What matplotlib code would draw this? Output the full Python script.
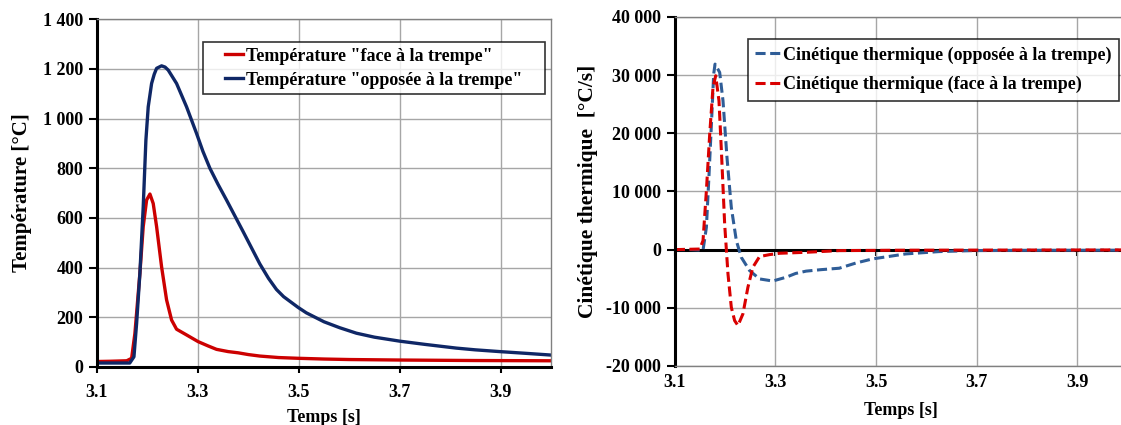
import matplotlib.pyplot as plt
from matplotlib.path import Path
from matplotlib.ticker import FuncFormatter

# température "face à la trempe" [°C]
t_face = [3.10, 3.126, 3.159, 3.1687, 3.1752, 3.1851, 3.1917, 3.1984, 3.205, 3.2115,
          3.2182, 3.2281, 3.238, 3.2479, 3.2578, 3.2776, 3.3006, 3.32, 3.337, 3.36,
          3.38, 3.40, 3.4228, 3.46, 3.4986, 3.55, 3.60, 3.70, 3.85, 4.00]
T_face = [22, 23, 25, 35, 135, 377, 565, 672, 696, 658,
          565, 403, 270, 189, 152, 129, 102, 85, 71, 62,
          57, 50, 44, 38, 35, 32, 30, 28, 26, 25]

# température "opposée à la trempe" [°C]
t_opp = [3.10, 3.165, 3.1733, 3.1786, 3.1851, 3.1917, 3.197, 3.2016, 3.2083, 3.2135,
         3.2182, 3.2281, 3.235, 3.2412, 3.2578, 3.2776, 3.2974, 3.31, 3.3238, 3.34,
         3.3568, 3.3897, 3.4228, 3.44, 3.4558, 3.47, 3.4986, 3.515, 3.55, 3.5812,
         3.6143, 3.65, 3.70, 3.75, 3.8123, 3.85, 3.898, 3.95, 4.00]
T_opp = [16, 16, 41, 176, 377, 645, 913, 1047, 1141, 1178,
         1202, 1212, 1207, 1195, 1141, 1047, 940, 868, 800, 735,
         672, 545, 415, 357, 312, 283, 240, 218, 182, 158,
         136, 120, 104, 91, 76, 69, 62, 55, 48]

# cinétique thermique "opposée à la trempe" [°C/s]
k_t_opp = [3.10, 3.13, 3.156, 3.1627, 3.168, 3.1727, 3.1772, 3.1799, 3.1891, 3.1957,
           3.2036, 3.2122, 3.2222, 3.232, 3.2485, 3.2683, 3.2947, 3.3211, 3.34, 3.3608,
           3.39, 3.4267, 3.46, 3.4927, 3.5588, 3.6248, 3.6907, 3.80, 4.00]
k_opp = [0, 0, -100, 3830, 13000, 21600, 30190, 31900, 30470, 25600,
         15860, 7270, 1550, -1320, -3600, -5040, -5400, -4750, -4100, -3700,
         -3450, -3200, -2300, -1600, -740, -340, -170, -120, -100]

# cinétique thermique "face à la trempe" [°C/s]
k_t_face = [3.10, 3.1495, 3.156, 3.1627, 3.1693, 3.1758, 3.1812, 3.1877, 3.1925, 3.199,
            3.2056, 3.2122, 3.2188, 3.2254, 3.2353, 3.2452, 3.255, 3.2683, 3.2881, 3.3079,
            3.3608, 3.4267, 3.55, 4.00]
k_face = [0, 100, 1550, 10140, 19880, 27900, 29900, 25600, 17000, 4400,
          -4180, -9910, -12200, -13060, -11050, -6480, -3040, -1200, -860, -630,
          -460, -170, -100, -50]

xticks = [3.1, 3.3, 3.5, 3.7, 3.9]

plt.rcParams['font.family'] = ['Liberation Serif', 'DejaVu Serif']
plt.rcParams['font.weight'] = 'bold'
plt.rcParams['axes.labelweight'] = 'bold'

sep = FuncFormatter(lambda v, p: f"{int(v):,}".replace(",", " "))


def wide_box(x0, y0, width, height, mutation_size, padx=17):
    x0 -= padx
    width += 2 * padx
    return Path([(x0, y0), (x0 + width, y0), (x0 + width, y0 + height),
                 (x0, y0 + height), (x0, y0)], closed=True)


fig = plt.figure(figsize=(11.21, 4.25), dpi=100)
ax1 = fig.add_axes([0.0865, 0.1365, 0.405, 0.8185])
ax2 = fig.add_axes([0.602, 0.139, 0.404, 0.821])

for ax in (ax1, ax2):
    ax.set_xlim(3.1, 4.0)
    ax.set_xticks(xticks)
    ax.grid(True, color='#a6a6a6', linewidth=1)
    ax.set_axisbelow(True)
    ax.spines['left'].set_linewidth(2.2)
    ax.spines['left'].set_color('black')
    for s in ('top', 'right'):
        ax.spines[s].set_color('#808080')
        ax.spines[s].set_linewidth(1)
    ax.tick_params(axis='y', direction='out', length=6, width=1.5, labelsize=13, pad=4)

# left panel
ax1.plot(t_face, T_face, color='#cc0000', lw=2.4, solid_joinstyle='round',
         label='Température "face à la trempe"')
ax1.plot(t_opp, T_opp, color='#0f2766', lw=2.4, solid_joinstyle='round',
         label='Température "opposée à la trempe"')
ax1.set_ylim(0, 1400)
ax1.set_yticks(range(0, 1401, 200))
ax1.yaxis.set_major_formatter(sep)
ax1.spines['bottom'].set_linewidth(2.2)
ax1.tick_params(axis='x', direction='out', length=4, width=1.5, labelsize=13, pad=8)
ax1.set_ylabel('Température [°C]', fontsize=15, labelpad=8)
ax1.set_xlabel('Temps [s]', fontsize=13, labelpad=6)
leg1 = ax1.legend(loc='upper left', bbox_to_anchor=(0.271, 0.934), fontsize=13,
                  frameon=True, fancybox=False, edgecolor='black', handlelength=1.0,
                  handletextpad=0.15, borderpad=0.3, labelspacing=0.4, borderaxespad=0)
leg1.get_frame().set_linewidth(1.2)
leg1.get_frame().set_boxstyle(wide_box)

# right panel
ax2.axhline(0, color='black', lw=2.2, zorder=1)
ax2.plot(k_t_opp, k_opp, color='#2f5d97', lw=2.2, dashes=(3.3, 1.5),
         label='Cinétique thermique (opposée à la trempe)')
ax2.plot(k_t_face, k_face, color='#d90000', lw=2.2, dashes=(3.3, 1.5),
         label='Cinétique thermique (face à la trempe)')
ax2.set_ylim(-20000, 40000)
ax2.set_yticks(range(-20000, 40001, 10000))
ax2.yaxis.set_major_formatter(sep)
ax2.spines['bottom'].set_color('#808080')
ax2.spines['bottom'].set_linewidth(1)
ax2.tick_params(axis='x', length=0, labelsize=13, pad=6)
sec = ax2.secondary_xaxis(1 / 3)
sec.set_xticks(xticks)
sec.set_xticklabels([])
sec.spines['bottom'].set_visible(False)
sec.tick_params(axis='x', direction='out', length=4, width=1.5, color='black')
ax2.set_ylabel('Cinétique thermique  [°C/s]', fontsize=15.5, labelpad=6)
ax2.set_xlabel('Temps [s]', fontsize=13, labelpad=8)
leg2 = ax2.legend(loc='upper left', bbox_to_anchor=(0.161, 0.937), fontsize=13,
                  frameon=True, fancybox=False, edgecolor='black', handlelength=1.4,
                  handletextpad=0.15, borderpad=0.4, labelspacing=0.7, borderaxespad=0)
leg2.get_frame().set_linewidth(1.2)

fig.savefig('out.png', dpi=100)
